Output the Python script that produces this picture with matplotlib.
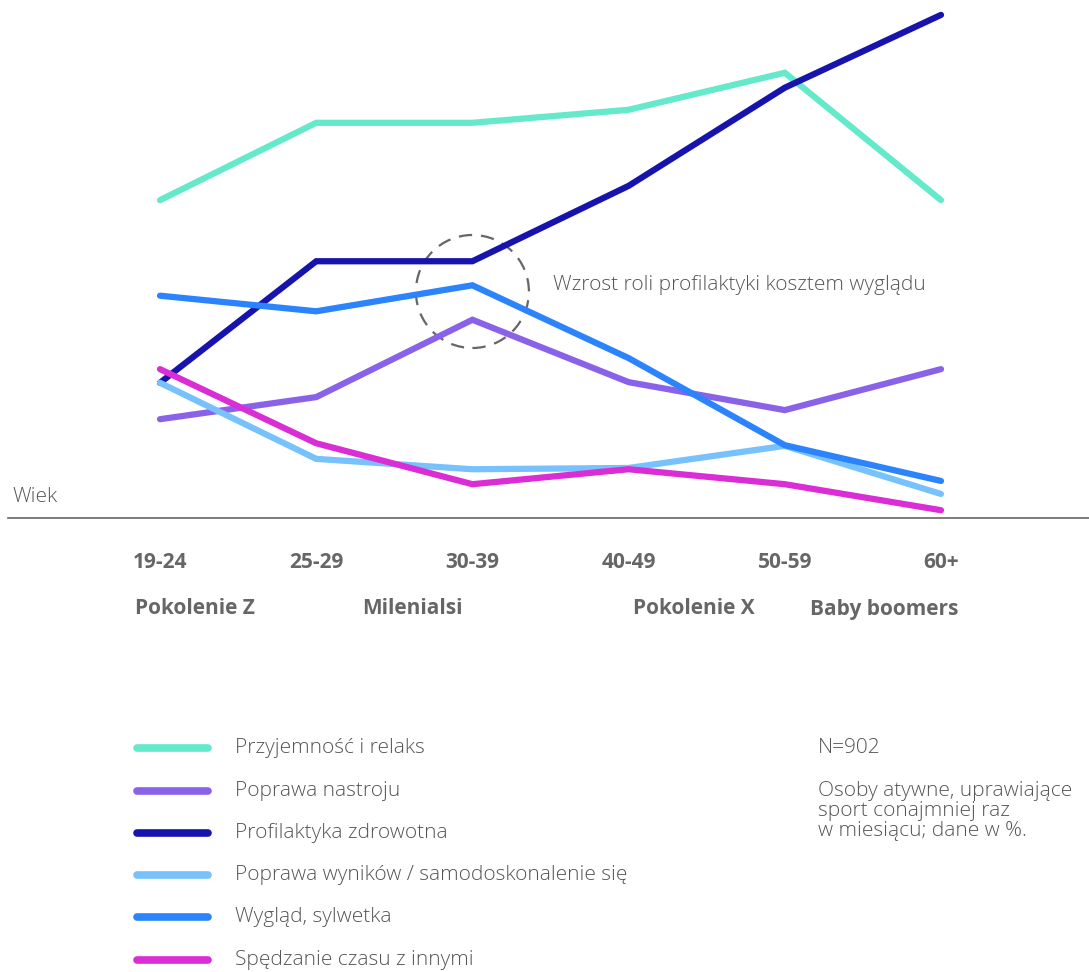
import matplotlib
matplotlib.use('Agg')
import matplotlib.pyplot as plt
from matplotlib.patches import Ellipse
from matplotlib.lines import Line2D

# data
age_groups = ['19-24', '25-29', '30-39', '40-49', '50-59', '60+']
generations = ['Pokolenie Z', 'Milenialsi', 'Pokolenie X', 'Baby boomers']

series_names = ['Przyjemność i relaks', 'Poprawa nastroju', 'Profilaktyka zdrowotna',
                'Poprawa wyników / samodoskonalenie się', 'Wygląd, sylwetka',
                'Spędzanie czasu z innymi']
przyjemnosc = [48.9, 60.8, 60.8, 62.8, 68.5, 48.9]
nastroj = [15.2, 18.6, 30.5, 20.9, 16.6, 22.9]
profilaktyka = [20.8, 39.5, 39.5, 51.1, 66.2, 77.4]
wyniki = [20.8, 9.1, 7.5, 7.7, 11.1, 3.7]
wyglad = [34.2, 31.8, 35.8, 24.6, 11.2, 5.7]
spedzanie = [22.9, 11.5, 5.2, 7.5, 5.2, 1.2]
series = [przyjemnosc, nastroj, profilaktyka, wyniki, wyglad, spedzanie]
colors = ['#65E9CB', '#8A62EA', '#1714AE', '#77C2FC', '#2B84FB', '#DB2DD6']

W, H = 1089, 972
FONT = 'Open Sans'
GREY = '#666666'
TXT = '#555555'

fig = plt.figure(figsize=(W / 100, H / 100), dpi=100)
ax = fig.add_axes([0, (H - 518) / H, 1, 518 / H])
step = 156.2
ax.set_xlim(-160 / step, (W - 160) / step)
ax.set_ylim(0, 518 / 6.5)
ax.axis('off')

x = list(range(len(age_groups)))
for vals, c in zip(series, colors):
    ax.plot(x, vals, color=c, lw=4.5, solid_capstyle='round',
            solid_joinstyle='miter', clip_on=False)

# baseline
ax.plot([8 / W, 1], [0, 0], transform=ax.transAxes, color=GREY, lw=1.2, clip_on=False)

# highlight circle
ax.add_patch(Ellipse((2, (518 - 291.5) / 6.5), 113 / step, 113 / 6.5, fill=False,
                     ec=GREY, lw=1.6, ls=(0, (6, 4)), clip_on=False))
ax.text(2 + (553 - 472) / step, (518 - 285) / 6.5, 'Wzrost roli profilaktyki kosztem wyglądu',
        fontsize=15, family=FONT, fontweight='light', color=TXT, va='center', ha='left')

def fx(px):
    return px / W

def fy(py):
    return 1 - py / H

fig.text(fx(12), fy(497), 'Wiek', fontsize=15, family=FONT, fontweight='light',
         color=TXT, va='center')

for i, lab in enumerate(age_groups):
    ax.annotate(lab, (i, 0), xytext=(0, -44), textcoords='offset pixels',
                ha='center', va='center', fontsize=15, fontweight='bold',
                family=FONT, color=GREY, annotation_clip=False)

gen_x = [195, 412, 694, 884]
for gx, g in zip(gen_x, generations):
    fig.text(fx(gx), fy(609), g, ha='center', va='center', fontsize=15,
             fontweight='bold', family=FONT, color=GREY)

# legend
leg_y = [748, 791, 833, 875, 917, 960]
for name, c, ly in zip(series_names, colors, leg_y):
    fig.add_artist(Line2D([fx(137), fx(208)], [fy(ly), fy(ly)], color=c, lw=5.5,
                          solid_capstyle='round'))
    fig.text(fx(235), fy(ly), name, fontsize=15, family=FONT, fontweight='light',
             color=TXT, va='center')

fig.text(fx(818), fy(748), 'N=902', fontsize=15, family=FONT, fontweight='light',
         color=TXT, va='center')
fig.text(fx(818), fy(781), 'Osoby atywne, uprawiające\nsport conajmniej raz\nw miesiącu; dane w %.',
         fontsize=15, family=FONT, fontweight='light', color=TXT, va='top', linespacing=1.0)

plt.savefig('out.png', dpi=100)
plt.close()
